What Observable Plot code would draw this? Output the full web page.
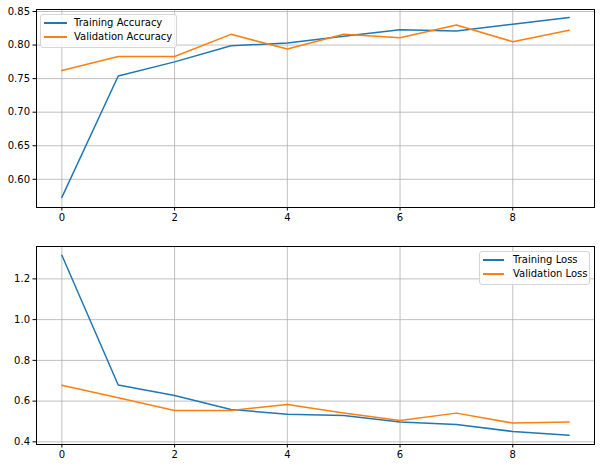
<!DOCTYPE html>
<html><head><meta charset="utf-8">
<script src="https://cdn.jsdelivr.net/npm/d3@7"></script>
<script src="https://cdn.jsdelivr.net/npm/@observablehq/plot@0.6"></script>
<style>
body{margin:0;background:#fff;font-family:"DejaVu Sans",sans-serif;}
#wrap{position:relative;width:601px;height:468px;background:#fff;}
#wrap svg{display:block;}
.legend{position:absolute;background:rgba(255,255,255,0.8);border:1px solid #d6d6d6;border-radius:3px;font-size:10px;color:#000;box-sizing:border-box;}
.row{position:absolute;left:0;height:14px;line-height:14px;white-space:nowrap;}
.sw{position:absolute;top:6px;height:1.5px;}
.lbl{position:absolute;top:0;}
</style></head>
<body>
<div id="wrap"></div>
<script>
const epochs = [0,1,2,3,4,5,6,7,8,9];
const trainAcc = [0.573,0.754,0.775,0.799,0.803,0.813,0.823,0.821,0.831,0.841];
const valAcc   = [0.762,0.783,0.783,0.816,0.794,0.816,0.811,0.830,0.805,0.822];
const trainLoss = [1.316,0.679,0.628,0.559,0.536,0.529,0.498,0.485,0.451,0.433];
const valLoss   = [0.678,0.617,0.554,0.554,0.583,0.542,0.505,0.541,0.492,0.497];
const xTicks = [0,2,4,6,8];
const accTicks = [0.60,0.65,0.70,0.75,0.80,0.85];
const lossTicks = [0.4,0.6,0.8,1.0,1.2];
const accLabels = ["Training Accuracy","Validation Accuracy"];
const lossLabels = ["Training Loss","Validation Loss"];
const colors = ["#1f77b4","#ff7f0e"];

function panel({a, b, yDomain, yTicks, yFormat, height, marginTop, marginBottom}) {
  const ta = epochs.map((e,i)=>({epoch:e, value:a[i]}));
  const tb = epochs.map((e,i)=>({epoch:e, value:b[i]}));
  return Plot.plot({
    width: 601, height, marginLeft: 36, marginRight: 7, marginTop, marginBottom,
    style: {fontFamily: "DejaVu Sans", fontSize: "10px", color: "black", background: "white", overflow: "visible"},
    x: {domain: [-0.45, 9.45]},
    y: {domain: yDomain},
    marks: [
      Plot.gridX(xTicks, {stroke: "#b0b0b0", strokeOpacity: 1, strokeWidth: 0.8}),
      Plot.gridY(yTicks, {stroke: "#b0b0b0", strokeOpacity: 1, strokeWidth: 0.8}),
      Plot.axisX({ticks: xTicks, tickSize: 3.5, tickPadding: 3, tickFormat: d => String(d), label: null}),
      Plot.axisY({ticks: yTicks, tickSize: 3.5, tickPadding: 3, tickFormat: yFormat, label: null}),
      Plot.line(ta, {x: "epoch", y: "value", stroke: colors[0], strokeWidth: 1.5}),
      Plot.line(tb, {x: "epoch", y: "value", stroke: colors[1], strokeWidth: 1.5}),
      Plot.frame({stroke: "black", strokeWidth: 1})
    ]
  });
}

const wrap = document.getElementById("wrap");
wrap.appendChild(panel({a: trainAcc, b: valAcc, yDomain: [0.558, 0.853], yTicks: accTicks,
  yFormat: d3.format(".2f"), height: 230, marginTop: 9, marginBottom: 23}));
wrap.appendChild(panel({a: trainLoss, b: valLoss, yDomain: [0.387, 1.359], yTicks: lossTicks,
  yFormat: d3.format(".1f"), height: 238, marginTop: 16, marginBottom: 24}));

function legend(labels, left, top, width, swL, swW, txtL) {
  const box = document.createElement("div");
  box.className = "legend";
  Object.assign(box.style, {left: left+"px", top: top+"px", width: width+"px", height: "34px"});
  labels.forEach((t,i) => {
    const row = document.createElement("div");
    row.className = "row";
    row.style.top = (1 + i*14.4) + "px";
    const sw = document.createElement("div");
    sw.className = "sw";
    Object.assign(sw.style, {left: swL+"px", width: swW+"px", background: colors[i]});
    const lb = document.createElement("div");
    lb.className = "lbl";
    lb.style.left = txtL + "px";
    lb.textContent = t;
    row.appendChild(sw); row.appendChild(lb);
    box.appendChild(row);
  });
  wrap.appendChild(box);
}
legend(accLabels, 40, 14, 137, 3, 23, 33);
legend(lossLabels, 479, 251, 111, 3, 21, 33);
</script>
</body></html>
